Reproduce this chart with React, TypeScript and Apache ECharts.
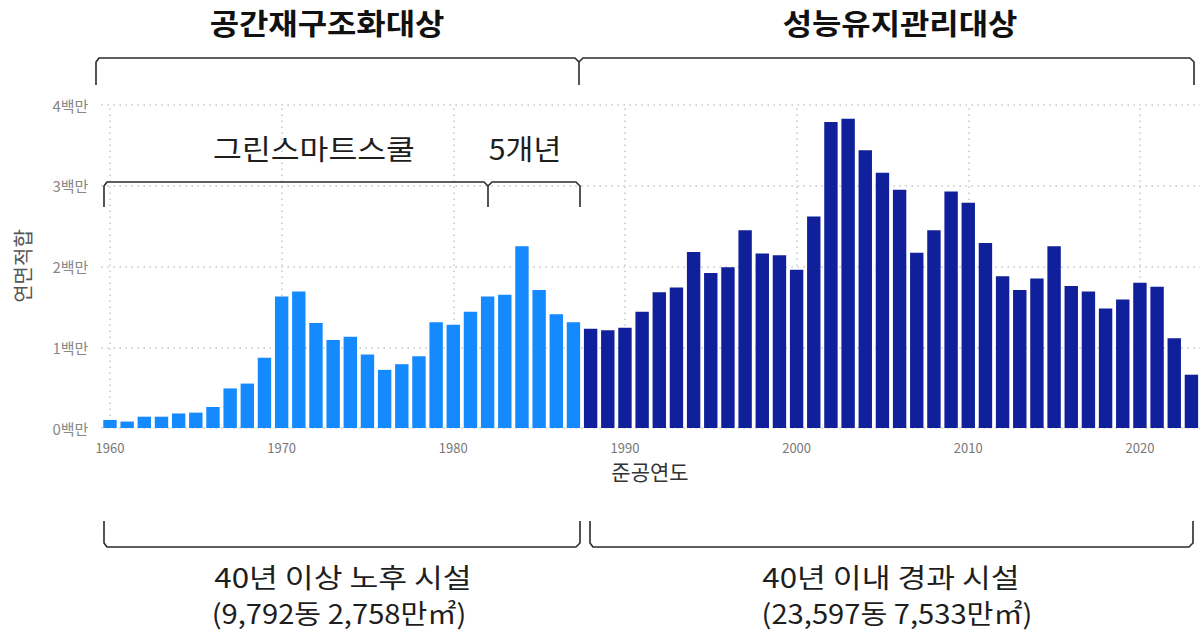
import React, { useEffect, useRef } from "react";
import * as echarts from "echarts";

// Completion year (준공연도)
const years = [
  "1960", "1961", "1962", "1963", "1964", "1965", "1966", "1967", "1968", "1969",
  "1970", "1971", "1972", "1973", "1974", "1975", "1976", "1977", "1978", "1979",
  "1980", "1981", "1982", "1983", "1984", "1985", "1986", "1987", "1988", "1989",
  "1990", "1991", "1992", "1993", "1994", "1995", "1996", "1997", "1998", "1999",
  "2000", "2001", "2002", "2003", "2004", "2005", "2006", "2007", "2008", "2009",
  "2010", "2011", "2012", "2013", "2014", "2015", "2016", "2017", "2018", "2019",
  "2020", "2021", "2022", "2023",
];

// Floor area (연면적합), millions of m²
const areaMillions = [
  0.10, 0.08, 0.14, 0.14, 0.18, 0.19, 0.26, 0.49, 0.55, 0.87,
  1.63, 1.69, 1.30, 1.09, 1.13, 0.91, 0.72, 0.79, 0.89, 1.31,
  1.28, 1.44, 1.63, 1.65, 2.25, 1.71, 1.41, 1.31, 1.23, 1.21,
  1.24, 1.44, 1.68, 1.74, 2.18, 1.92, 1.99, 2.45, 2.16, 2.14,
  1.96, 2.62, 3.79, 3.83, 3.44, 3.16, 2.95, 2.17, 2.45, 2.93,
  2.79, 2.29, 1.88, 1.71, 1.85, 2.25, 1.76, 1.69, 1.48, 1.59,
  1.80, 1.75, 1.11, 0.66,
];

const oldGroupLastYear = 1987;
const gridYears = ["1960", "1970", "1980", "1990", "2000", "2010", "2020"];
const yMax = 4;
const yInterval = 1;

const titleLeft = "공간재구조화대상";
const titleRight = "성능유지관리대상";
const gssLabel = "그린스마트스쿨";
const fiveYearLabel = "5개년";
const bottomLeft1 = "40년 이상 노후 시설";
const bottomLeft2 = "(9,792동 2,758만㎡)";
const bottomRight1 = "40년 이내 경과 시설";
const bottomRight2 = "(23,597동 7,533만㎡)";
const yName = "연면적합";
const xName = "준공연도";

const COLOR_OLD = "#1589FE";
const COLOR_NEW = "#10209A";
const FONT = "'Noto Sans CJK KR', 'Noto Sans', sans-serif";
const GRID_DOT = { type: [1.5, 4.5], color: "#c6c6c6", width: 1.5 };

function bracket(points: number[][]) {
  return {
    type: "polyline",
    silent: true,
    shape: { points },
    style: { stroke: "#2b2b2b", lineWidth: 1.6, fill: null, lineJoin: "round" },
    z: 10,
  };
}

function label(
  text: string,
  x: number,
  y: number,
  size: number,
  opts: { weight?: string; color?: string; rotation?: number; scaleX?: number } = {}
) {
  return {
    type: "text",
    silent: true,
    x,
    y,
    rotation: opts.rotation || 0,
    scaleX: opts.scaleX || 1,
    z: 10,
    style: {
      text,
      fontSize: size,
      fontWeight: opts.weight || "normal",
      fontFamily: FONT,
      fill: opts.color || "#1e1e1e",
      align: "center",
      verticalAlign: "middle",
      textAlign: "center",
      textVerticalAlign: "middle",
    },
  };
}

export default function App() {
  const ref = useRef<HTMLDivElement>(null);

  useEffect(() => {
    document.body.style.margin = "0";
    document.body.style.overflow = "hidden";
    const chart = echarts.init(ref.current!, null, { renderer: "svg" });

    const option = {
      animation: false,
      textStyle: { fontFamily: FONT },
      grid: { left: 101.4, right: -7.2, top: 105, bottom: 206 },
      xAxis: {
        type: "category",
        data: years,
        axisLine: { show: false },
        axisTick: { show: false },
        splitLine: { show: false },
        axisLabel: {
          interval: (_i: number, v: string) => Number(v) % 10 === 0,
          color: "#777",
          fontSize: 13,
          margin: 13,
          fontFamily: FONT,
        },
      },
      yAxis: {
        type: "value",
        min: 0,
        max: yMax,
        interval: yInterval,
        axisLine: { show: false },
        axisTick: { show: false },
        axisLabel: {
          formatter: (v: number) => `${v}백만`,
          color: "#888",
          fontSize: 15,
          margin: 13,
          fontFamily: FONT,
        },
        splitLine: { lineStyle: GRID_DOT },
      },
      series: [
        {
          type: "bar",
          barWidth: 13.4,
          data: areaMillions.map((v, i) => ({
            value: v,
            itemStyle: { color: Number(years[i]) <= oldGroupLastYear ? COLOR_OLD : COLOR_NEW },
          })),
          markLine: {
            silent: true,
            z: 1,
            symbol: ["none", "none"],
            label: { show: false },
            lineStyle: GRID_DOT,
            emphasis: { disabled: true },
            data: gridYears.map((y) => ({ xAxis: y })),
          },
        },
      ],
      graphic: [
        label(titleLeft, 327, 23, 29, { weight: "bold", color: "#111", scaleX: 1.1 }),
        label(titleRight, 900, 23, 29, { weight: "bold", color: "#111", scaleX: 1.1 }),
        bracket([[96, 85], [96, 62], [99, 58], [575, 58], [579, 62], [579, 85]]),
        bracket([[579, 62], [583, 58], [1190, 58], [1194, 62], [1194, 85]]),
        label(gssLabel, 314, 148, 28, { scaleX: 1.12 }),
        label(fiveYearLabel, 525, 148, 28, { scaleX: 1.08 }),
        bracket([[104, 207], [104, 186], [107, 182], [484, 182], [488, 186], [488, 207]]),
        bracket([[488, 186], [492, 182], [576, 182], [580, 186], [580, 207]]),
        label(yName, 22, 266, 20, { color: "#555", rotation: Math.PI / 2 }),
        label(xName, 650, 471, 21, { color: "#333" }),
        bracket([[104, 521], [104, 543], [107, 547], [576, 547], [580, 543], [580, 521]]),
        bracket([[590, 521], [590, 543], [593, 547], [1189, 547], [1193, 543], [1193, 521]]),
        label(bottomLeft1, 343, 576, 27, { scaleX: 1.16 }),
        label(bottomLeft2, 339, 612, 27, { scaleX: 1.08 }),
        label(bottomRight1, 891, 576, 27, { scaleX: 1.16 }),
        label(bottomRight2, 897, 612, 27, { scaleX: 1.08 }),
      ],
    };

    chart.setOption(option as any);
    return () => chart.dispose();
  }, []);

  return (
    <div
      ref={ref}
      style={{ position: "absolute", left: 0, top: 0, width: 1200, height: 634, background: "#fff" }}
    />
  );
}
